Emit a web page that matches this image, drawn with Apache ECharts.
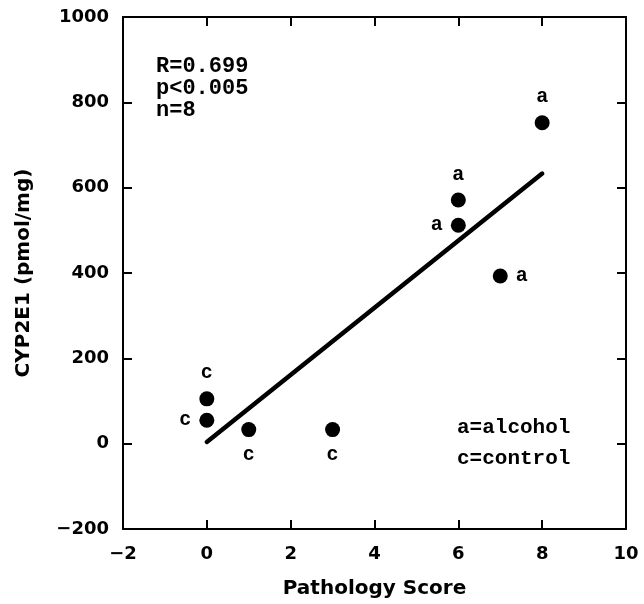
<!DOCTYPE html>
<html>
<head>
<meta charset="utf-8">
<script src="https://cdn.jsdelivr.net/npm/echarts@6/dist/echarts.min.js"></script>
<style>
  html, body { margin: 0; padding: 0; background: #fff; }
  #chart { width: 644px; height: 604px; }
</style>
</head>
<body>
<div id="chart"></div>
<script>
// Pathology score vs. microsomal CYP2E1 content
const pathologyScore = [0, 0, 1, 3, 6, 6, 7, 8];
const cyp2e1 = [105, 55, 33, 33, 571, 512, 393, 752];
const groupCode = ['c', 'c', 'c', 'c', 'a', 'a', 'a', 'a'];

// regression line end points
const fitX = [0, 8];
const fitY = [4, 633];

const xTicks = [-2, 0, 2, 4, 6, 8, 10];
const yTicks = [-200, 0, 200, 400, 600, 800, 1000];
const statsText = ['R=0.699', 'p<0.005', 'n=8'];
const keyText = ['a=alcohol', 'c=control'];

// where each point's group letter sits
const letterSide = ['top', 'left', 'bottom', 'bottom', 'top', 'left', 'right', 'top'];

const monoFont = '"Liberation Mono", "DejaVu Sans Mono", monospace';
const sansFont = '"DejaVu Sans", sans-serif';
const minus = v => String(v).replace('-', '\u2212');

const chart = echarts.init(document.getElementById('chart'), null, { renderer: 'canvas' });

const axisCommon = {
  axisLine: { show: true, onZero: false, lineStyle: { color: '#000', width: 2 } },
  axisTick: { show: true, inside: true, length: 9, lineStyle: { color: '#000', width: 2 } },
  splitLine: { show: false }
};

chart.setOption({
  animation: false,
  backgroundColor: '#fff',
  grid: { left: 123, right: 18, top: 17, bottom: 74 },
  xAxis: [
    Object.assign({
      type: 'value', min: xTicks[0], max: xTicks[xTicks.length - 1], interval: 2,
      position: 'bottom',
      name: 'Pathology Score', nameLocation: 'middle', nameGap: 50,
      nameTextStyle: { fontFamily: sansFont, fontWeight: 'bold', fontSize: 20, color: '#000' },
      axisLabel: { fontFamily: sansFont, fontWeight: 'bold', fontSize: 18, color: '#000', margin: 16, formatter: minus }
    }, axisCommon),
    Object.assign({
      type: 'value', min: xTicks[0], max: xTicks[xTicks.length - 1], interval: 2,
      position: 'top', axisLabel: { show: false }
    }, axisCommon)
  ],
  yAxis: [
    Object.assign({
      type: 'value', min: yTicks[0], max: yTicks[yTicks.length - 1], interval: 200,
      position: 'left',
      name: 'CYP2E1 (pmol/mg)', nameLocation: 'middle', nameGap: 89, nameRotate: 90,
      nameTextStyle: { fontFamily: sansFont, fontWeight: 'bold', fontSize: 20, color: '#000' },
      axisLabel: { fontFamily: sansFont, fontWeight: 'bold', fontSize: 18, color: '#000', margin: 14, formatter: minus }
    }, axisCommon),
    Object.assign({
      type: 'value', min: yTicks[0], max: yTicks[yTicks.length - 1], interval: 200,
      position: 'right', axisLabel: { show: false }
    }, axisCommon)
  ],
  series: [
    {
      type: 'line',
      data: fitX.map((x, i) => [x, fitY[i]]),
      symbol: 'none',
      lineStyle: { color: '#000', width: 4.5, cap: 'round' },
      z: 2
    },
    {
      type: 'scatter',
      symbol: 'circle',
      symbolSize: 15,
      itemStyle: { color: '#000', opacity: 1 },
      emphasis: { disabled: true },
      data: pathologyScore.map((x, i) => ({
        value: [x, cyp2e1[i]],
        label: {
          show: true,
          formatter: groupCode[i],
          position: letterSide[i],
          distance: 8,
          fontFamily: monoFont,
          fontWeight: 'bold',
          fontSize: 20,
          color: '#000',
          opacity: 1
        }
      })),
      z: 3
    }
  ],
  graphic: [
    {
      type: 'text', left: 156, top: 55,
      style: { text: statsText.join('\n'), font: 'bold 22px ' + monoFont, lineHeight: 22, fill: '#000' }
    },
    {
      type: 'text', left: 457, top: 412,
      style: { text: keyText.join('\n'), font: 'bold 21px ' + monoFont, lineHeight: 31, fill: '#000' }
    }
  ]
});
</script>
</body>
</html>
